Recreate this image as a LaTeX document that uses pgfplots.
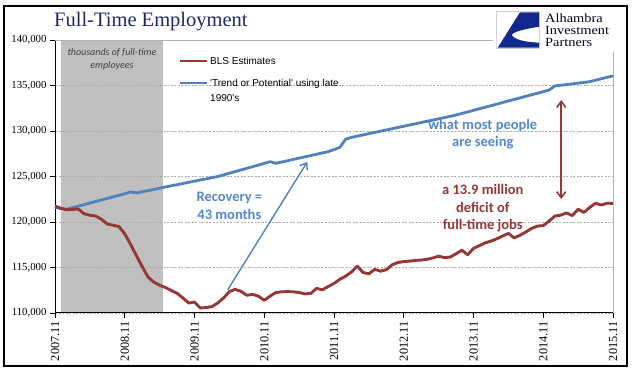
\documentclass[border=0pt]{standalone}
\usepackage{fontspec}
\setmainfont{Liberation Serif}
\newfontfamily\calibri{Carlito}
\newfontfamily\arial{Liberation Sans}
\newfontfamily\logofont[FakeStretch=1.15]{Liberation Serif}
\usepackage{pgfplots}
\usepackage{pgfplotstable}
\pgfplotsset{compat=1.18}
\usetikzlibrary{arrows.meta}
\definecolor{bls}{RGB}{149,55,53}
\definecolor{trend}{RGB}{79,129,189}
\definecolor{bluetxt}{RGB}{84,135,205}
\definecolor{navy}{RGB}{30,40,105}
\definecolor{logoblue}{RGB}{18,40,140}
\definecolor{shade}{RGB}{191,191,191}

\pgfplotstableread{
m bls trend
0 121760 121600
1 121500 121500
2 121350 121400
3 121380 121570
4 121430 121740
5 120900 121910
6 120750 122080
7 120650 122250
8 120300 122420
9 119780 122590
10 119650 122760
11 119500 122930
12 118700 123100
13 117550 123300
14 116300 123200
15 115100 123320
16 113950 123450
17 113400 123580
18 113050 123720
19 112800 123850
20 112480 123980
21 112160 124100
22 111650 124230
23 111100 124360
24 111200 124490
25 110550 124620
26 110600 124740
27 110700 124870
28 111100 125000
29 111650 125180
30 112350 125360
31 112600 125540
32 112380 125720
33 111950 125900
34 112050 126080
35 111850 126260
36 111400 126440
37 111850 126630
38 112250 126450
39 112330 126590
40 112350 126730
41 112330 126880
42 112250 127020
43 112100 127160
44 112150 127300
45 112700 127450
46 112550 127590
47 112900 127730
48 113250 127960
49 113700 128200
50 114050 129100
51 114500 129300
52 115150 129440
53 114450 129570
54 114300 129710
55 114800 129840
56 114600 129980
57 114750 130110
58 115300 130250
59 115550 130390
60 115650 130520
61 115700 130660
62 115780 130790
63 115820 130930
64 115900 131070
65 116050 131200
66 116250 131340
67 116080 131470
68 116150 131610
69 116500 131760
70 116900 131930
71 116400 132100
72 117100 132270
73 117400 132440
74 117700 132610
75 117900 132780
76 118150 132950
77 118450 133130
78 118750 133300
79 118250 133470
80 118550 133640
81 118900 133810
82 119300 133980
83 119550 134150
84 119600 134320
85 120100 134500
86 120650 134950
87 120750 135030
88 121000 135100
89 120700 135180
90 121400 135260
91 121050 135340
92 121600 135420
93 122050 135580
94 121870 135740
95 122060 135900
96 122050 136050
}\emp

\pgfplotstableread{
m y
1 110000
1 140000
18.5 140000
18.5 110000
}\recession

\pgfplotsset{set layers}

\begin{document}
\begin{tikzpicture}
\path (0,0) rectangle (641bp,375bp);
\begin{axis}[
  at={(55bp,62bp)}, anchor=south west,
  scale only axis, width=558bp, height=273bp,
  xmin=0, xmax=96, ymin=110000, ymax=140000,
  axis lines=left,
  axis line style={black, line width=1bp, -},
  xtick={0,12,...,96},
  xticklabels={2007.11,2008.11,2009.11,2010.11,2011.11,2012.11,2013.11,2014.11,2015.11},
  ytick={110000,115000,120000,125000,130000,135000,140000},
  yticklabels={{110,000},{115,000},{120,000},{125,000},{130,000},{135,000},{140,000}},
  scaled y ticks=false,
  tick align=outside,
  major tick length=5bp,
  tick style={black, line width=0.8bp},
  yticklabel style={font=\fontsize{10.8bp}{12bp}\selectfont},
  xticklabel style={font=\fontsize{12.3bp}{13bp}\selectfont, rotate=90, anchor=east},
  ymajorgrids,
  major grid style={gray!65, line width=0.5bp, dash pattern=on 2bp off 1.5bp},
  clip=false,
]
\addplot[draw=none, fill=shade, on layer=axis background] table[x=m, y=y] {\recession} -- cycle;
\addplot[trend, line width=2.8bp, line join=round] table[x=m, y=trend] {\emp};
\addplot[bls, line width=2.9bp, line join=round] table[x=m, y=bls] {\emp};

\node[align=center, text=black!75, font=\calibri\itshape\fontsize{10bp}{12.5bp}\selectfont] at (axis cs:9.8,137860) {thousands of full-time\\employees};

\draw[trend, line width=1.4bp, -{Straight Barb[length=6bp, width=9bp]}] (axis cs:29.7,112530) -- (axis cs:43.4,126600);
\draw[bls, line width=1.6bp, {Straight Barb[length=6bp, width=9bp]}-{Straight Barb[length=6bp, width=9bp]}] (axis cs:87.1,122530) -- (axis cs:87.1,133400);

\node[align=center, text=bluetxt, font=\calibri\bfseries\fontsize{14.5bp}{17.5bp}\selectfont] at (axis cs:30,121760) {Recovery =\\43 months};
\node[align=center, text=bluetxt, font=\calibri\bfseries\fontsize{14.5bp}{17.5bp}\selectfont] at (axis cs:73.6,129670) {what most people\\are seeing};
\node[align=center, text=bls, font=\calibri\bfseries\fontsize{14.5bp}{17.5bp}\selectfont] at (axis cs:73.6,121480) {a 13.9 million\\deficit of\\full-time jobs};
\end{axis}

\begin{scope}[x=1bp, y=1bp]
% plot area border (top/right)
\draw[gray!60, line width=0.8bp] (55,335) -- (613.5,335) -- (613.5,62);
% logo background
\fill[white] (493,323) rectangle (626,368);
\draw[gray!35, line width=0.5bp] (496.5,326.5) rectangle (539.5,363.5);
\fill[logoblue] (520,362.7) -- (539,362.7) -- (539,348.3) .. controls (524,346) and (513,343) .. (511.7,340) .. controls (515,335) and (525,333) .. (539,332.3) -- (539,327.3) -- (497.7,327.3) -- cycle;
\node[anchor=base west, inner sep=0, text=black!85!blue, font=\logofont\fontsize{12.5bp}{12.5bp}\selectfont] at (545,353) {Alhambra};
\node[anchor=base west, inner sep=0, text=black!85!blue, font=\logofont\fontsize{12.5bp}{12.5bp}\selectfont] at (545,340.8) {Investment};
\node[anchor=base west, inner sep=0, text=black!85!blue, font=\logofont\fontsize{12.5bp}{12.5bp}\selectfont] at (545,328.6) {Partners};
% title
\node[anchor=base west, inner sep=0, text=navy, font=\fontsize{20.5bp}{24bp}\selectfont] at (54,349) {Full-Time Employment};
% legend
\draw[bls, line width=2.8bp] (180,314) -- (207,314);
\node[anchor=base west, inner sep=0, font=\arial\fontsize{10bp}{12bp}\selectfont] at (210,310.4) {BLS Estimates};
\draw[trend, line width=2.8bp] (180,292) -- (207,292);
\node[anchor=base west, inner sep=0, font=\arial\fontsize{10bp}{12bp}\selectfont] at (210,288.5) {\textquotesingle Trend or Potential\textquotesingle{} using late};
\node[anchor=base west, inner sep=0, font=\arial\fontsize{10bp}{12bp}\selectfont] at (210,273.5) {1990\textquotesingle s};
% outer frame
\draw[black, line width=1.2bp] (4,9) rectangle (627,369);
\end{scope}
\end{tikzpicture}
\end{document}
